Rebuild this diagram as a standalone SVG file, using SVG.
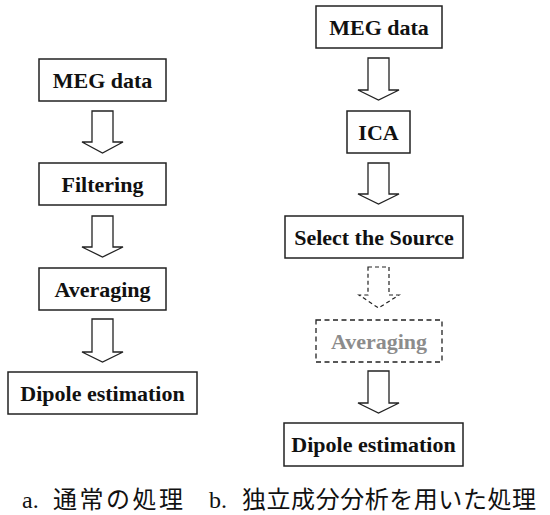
<svg xmlns="http://www.w3.org/2000/svg" width="550" height="515" viewBox="0 0 550 515">
<style>
.box{fill:#fff;stroke:#222;stroke-width:1.5}
.dbox{fill:#fff;stroke:#222;stroke-width:1.3;stroke-dasharray:5,3.5}
.lbl{font-family:'Liberation Serif','Times New Roman','DejaVu Serif',serif;font-weight:700;font-size:22px;fill:#111;text-anchor:middle}
.gray{fill:#8c8c8c}
.arr{fill:#fff;stroke:#222;stroke-width:1.3;stroke-linejoin:miter}
.darr{fill:#fff;stroke:#222;stroke-width:1.2;stroke-dasharray:4,3}
.cap{font-family:'Noto Sans CJK JP','Noto Sans',sans-serif;font-size:24px;fill:#111}
.lat{font-family:'Liberation Serif','Times New Roman',serif;font-size:24px;fill:#111}
</style>
<g id="connectors">
<polygon class="arr" points="92,111 113,111 113,142 123,142 102.5,153 82,142 92,142"/>
<polygon class="arr" points="92,216 113,216 113,247 123,247 102.5,257 82,247 92,247"/>
<polygon class="arr" points="92,319 113,319 113,352 123,352 102.5,362 82,352 92,352"/>
<polygon class="arr" points="368,58 389,58 389,90 399,90 378.5,100 358,90 368,90"/>
<polygon class="arr" points="368,163 389,163 389,194 399,194 378.5,204 358,194 368,194"/>
<polygon class="darr" points="368,267 389,267 389,295 399,295 378.5,308 359,295 368,295"/>
<polygon class="arr" points="368,371 389,371 389,403 399,403 378.5,413 358,403 368,403"/>
</g>
<g id="a-meg"><rect class="box" x="39" y="59" width="127" height="42"/><text class="lbl" x="102.5" y="88">MEG data</text></g>
<g id="a-filter"><rect class="box" x="39" y="163" width="127" height="42"/><text class="lbl" x="102.5" y="192">Filtering</text></g>
<g id="a-avg"><rect class="box" x="39" y="268" width="127" height="42"/><text class="lbl" x="102.5" y="297">Averaging</text></g>
<g id="a-dipole"><rect class="box" x="8" y="372" width="189" height="42"/><text class="lbl" x="102.5" y="401">Dipole estimation</text></g>
<g id="b-meg"><rect class="box" x="316" y="6" width="126" height="42"/><text class="lbl" x="379" y="35">MEG data</text></g>
<g id="b-ica"><rect class="box" x="347" y="111" width="63" height="42"/><text class="lbl" x="378.5" y="140">ICA</text></g>
<g id="b-select"><rect class="box" x="285" y="216" width="178" height="42"/><text class="lbl" x="374" y="245">Select the Source</text></g>
<g id="b-avg"><rect class="dbox" x="316" y="320" width="126" height="42"/><text class="lbl gray" x="379" y="349">Averaging</text></g>
<g id="b-dipole"><rect class="box" x="284" y="423" width="179" height="43"/><text class="lbl" x="373.5" y="452">Dipole estimation</text></g>
<g id="captions">
<text class="lat" x="22" y="508">a.</text>
<text class="cap" x="53" y="508" textLength="130" lengthAdjust="spacing">通常の処理</text>
<text class="lat" x="209" y="508">b.</text>
<text class="cap" x="242" y="508" textLength="294" lengthAdjust="spacing">独立成分分析を用いた処理</text>
</g>
</svg>
